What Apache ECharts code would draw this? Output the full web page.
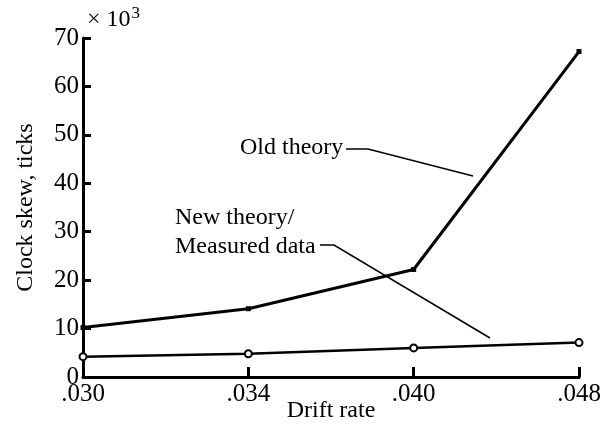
<!DOCTYPE html>
<html>
<head>
<meta charset="utf-8">
<script src="https://cdn.jsdelivr.net/npm/echarts@6/dist/echarts.min.js"></script>
<style>
  html, body { margin: 0; padding: 0; background: #fff; }
  #chart { width: 613px; height: 431px; }
</style>
</head>
<body>
<div id="chart"></div>
<script>
// drift rate categories (equally spaced in the original plot)
const driftRates = ['.030', '.034', '.040', '.048']
// clock skew, in thousands of ticks
const oldTheory = [10.2, 14.1, 22.2, 67.2]
const newTheory = [4.2, 4.8, 6.0, 7.1]
const yTicks = [0, 10, 20, 30, 40, 50, 60, 70]

const serif = '"Liberation Serif", "DejaVu Serif", serif'

const chart = echarts.init(document.getElementById('chart'))

chart.setOption({
  backgroundColor: '#fff',
  animation: false,
  textStyle: { fontFamily: serif, color: '#000' },
  grid: { left: 83, right: 34, top: 38, bottom: 54, outerBoundsMode: 'none' },
  xAxis: {
    type: 'category',
    data: driftRates,
    boundaryGap: false,
    name: 'Drift rate',
    nameLocation: 'middle',
    nameGap: 22,
    nameMoveOverlap: false,
    nameTextStyle: { fontFamily: serif, fontSize: 24, color: '#000' },
    axisLine: { lineStyle: { color: '#000', width: 3 } },
    axisTick: { inside: true, length: 10, lineStyle: { color: '#000', width: 3 } },
    axisLabel: { fontFamily: serif, fontSize: 25, color: '#000', margin: 5 },
    splitLine: { show: false }
  },
  yAxis: {
    type: 'value',
    min: yTicks[0],
    max: yTicks[yTicks.length - 1],
    interval: 10,
    name: 'Clock skew, ticks',
    nameLocation: 'middle',
    nameGap: 45,
    nameTextStyle: { fontFamily: serif, fontSize: 24, color: '#000' },
    axisLine: { show: true, lineStyle: { color: '#000', width: 3 } },
    axisTick: { show: true, inside: true, length: 8, lineStyle: { color: '#000', width: 3 } },
    axisLabel: { fontFamily: serif, fontSize: 25, color: '#000', margin: 4 },
    splitLine: { show: false }
  },
  series: [
    {
      name: 'Old theory',
      type: 'line',
      data: oldTheory,
      symbol: 'rect',
      symbolSize: 5,
      itemStyle: { color: '#000' },
      lineStyle: { color: '#000', width: 3 }
    },
    {
      name: 'New theory/Measured data',
      type: 'line',
      data: newTheory,
      symbol: 'emptyCircle',
      symbolSize: 7,
      itemStyle: { color: '#000', borderWidth: 2 },
      lineStyle: { color: '#000', width: 2.5 }
    }
  ],
  graphic: [
    {
      type: 'text',
      left: 87, top: 5,
      style: {
        text: '× 10{s|3}',
        font: '24px ' + serif,
        fill: '#000',
        rich: { s: { fontSize: 17, fontFamily: serif, verticalAlign: 'top', padding: [0, 0, 13, 1] } }
      }
    },
    {
      type: 'text',
      left: 240, top: 136,
      style: { text: 'Old theory', font: '24px ' + serif, fill: '#000' }
    },
    {
      type: 'polyline',
      shape: { points: [[346, 149], [368, 149], [473, 176]] },
      style: { stroke: '#000', lineWidth: 1.5, fill: null }
    },
    {
      type: 'text',
      left: 175, top: 203,
      style: { text: 'New theory/\nMeasured data', font: '24px ' + serif, fill: '#000', lineHeight: 29 }
    },
    {
      type: 'polyline',
      shape: { points: [[320, 245], [334, 245], [490, 338]] },
      style: { stroke: '#000', lineWidth: 1.5, fill: null }
    }
  ]
})
</script>
</body>
</html>
